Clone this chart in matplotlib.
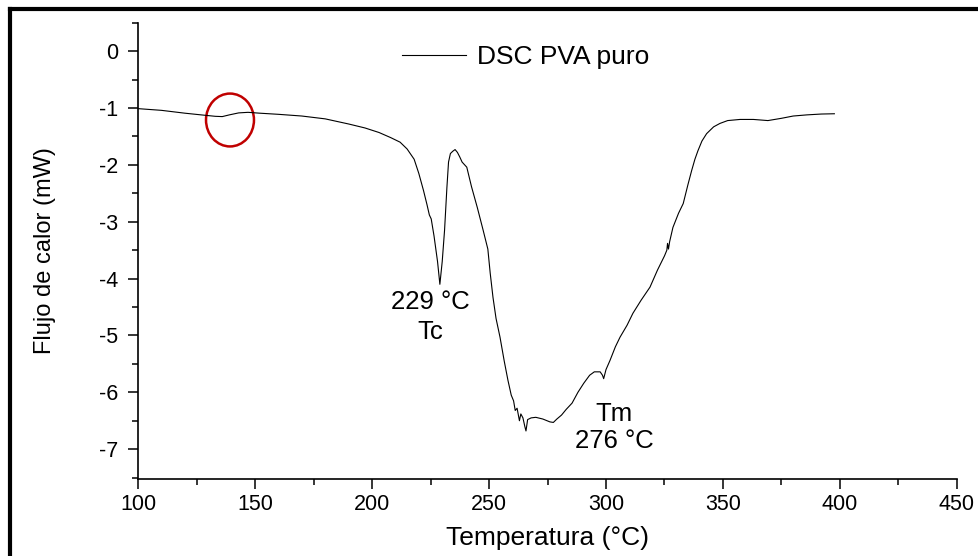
import matplotlib
matplotlib.use('Agg')

import numpy as np
import matplotlib.pyplot as plt
from matplotlib.patches import Ellipse
from matplotlib.lines import Line2D
from matplotlib.ticker import MultipleLocator

plt.rcParams['font.family'] = ['Liberation Sans', 'DejaVu Sans']
plt.rcParams['axes.unicode_minus'] = False

# DSC curve of pure PVA
temp = [100, 110, 120, 127, 133, 136, 139, 143, 147, 152, 160, 170, 180, 190,
        197, 203, 208, 212, 215, 218, 220, 222, 223.5, 224.5, 225.3, 226.5,
        228, 229, 230, 231, 232, 232.7, 233.5, 234.5, 235.5, 236.5, 237.5,
        238.5, 240.5, 242.5, 245, 247.5, 249.5, 250.5, 251.7, 253, 254.7,
        256.5, 258.1, 259.5, 260.5, 261.2, 262, 263, 263.6, 264.5, 265.3,
        265.8, 266.5, 268, 270, 273, 276, 277.5, 279, 281, 283, 285.5, 288,
        290.5, 293, 295, 297.5, 298.5, 299, 300, 301.7, 304, 306, 309, 311.5,
        315, 318.8, 322, 325, 326, 326.3, 326.7, 327.2, 328.6, 331, 333, 335,
        336.6, 338, 339.3, 341, 343, 346, 348.7, 352, 357.3, 363, 369.2, 375,
        380, 385.8, 392, 397.6]
flujo = [-1.01, -1.04, -1.09, -1.12, -1.145, -1.15, -1.12, -1.085, -1.075,
         -1.09, -1.11, -1.14, -1.19, -1.28, -1.35, -1.43, -1.52, -1.60, -1.72,
         -1.90, -2.15, -2.45, -2.70, -2.88, -2.95, -3.25, -3.70, -4.10, -3.70,
         -3.15, -2.40, -1.95, -1.80, -1.76, -1.73, -1.78, -1.86, -1.95, -2.04,
         -2.38, -2.75, -3.15, -3.48, -3.90, -4.33, -4.70, -5.03, -5.45, -5.79,
         -6.05, -6.15, -6.32, -6.28, -6.50, -6.38, -6.45, -6.60, -6.68, -6.48,
         -6.45, -6.44, -6.47, -6.52, -6.53, -6.47, -6.40, -6.30, -6.19, -6.00,
         -5.84, -5.70, -5.64, -5.64, -5.70, -5.76, -5.60, -5.44, -5.20, -5.03,
         -4.82, -4.61, -4.38, -4.15, -3.85, -3.60, -3.50, -3.38, -3.48, -3.35,
         -3.10, -2.85, -2.68, -2.35, -2.10, -1.90, -1.75, -1.58, -1.45, -1.33,
         -1.27, -1.22, -1.20, -1.20, -1.22, -1.18, -1.14, -1.12, -1.105, -1.10]

# annotations
tc_x, tc_label, tc_name = 224.8, '229 °C', 'Tc'
tm_x, tm_label, tm_name = 303.4, '276 °C', 'Tm'
circ_x, circ_y, circ_w, circ_h = 139.3, -1.21, 20.5, 0.93

fig = plt.figure(figsize=(9.79, 5.56), dpi=100)
ax = fig.add_axes([0.141, 0.139, 0.8365, 0.820])

ax.plot(temp, flujo, color='black', lw=0.8, label='DSC PVA puro')

ax.add_patch(Ellipse((circ_x, circ_y), circ_w, circ_h, fill=False,
                     edgecolor='#c00000', lw=1.8))

ax.text(tc_x, -4.42, tc_label, ha='center', va='center', fontsize=18.5)
ax.text(tc_x, -4.94, tc_name, ha='center', va='center', fontsize=18.5)
ax.text(tm_x, -6.38, tm_name, ha='center', va='center', fontsize=18.5)
ax.text(tm_x, -6.86, tm_label, ha='center', va='center', fontsize=18.5)

ax.set_xlim(100, 450)
ax.set_ylim(-7.52, 0.5)
ax.xaxis.set_major_locator(MultipleLocator(50))
ax.xaxis.set_minor_locator(MultipleLocator(25))
ax.yaxis.set_major_locator(MultipleLocator(1))
ax.yaxis.set_minor_locator(MultipleLocator(0.5))

for s in ['top', 'right']:
    ax.spines[s].set_visible(False)
for s in ['left', 'bottom']:
    ax.spines[s].set_linewidth(1.2)

ax.tick_params(which='major', direction='out', length=7, width=1.1,
               labelsize=15.5, pad=4)
ax.tick_params(which='minor', direction='out', length=4, width=1.1)
ax.tick_params(axis='y', which='major', pad=7)

ax.set_xlabel('Temperatura (°C)', fontsize=19, labelpad=8)
ax.set_ylabel('Flujo de calor (mW)', fontsize=17, labelpad=31)

ax.legend(loc='center left', bbox_to_anchor=(0.322, 0.925), frameon=False,
          fontsize=19, handlelength=2.45, handletextpad=0.42, borderpad=0,
          borderaxespad=0)

# outer frame (top and left edges visible)
fig.add_artist(Line2D([0.0102, 1.0], [0.9838, 0.9838], color='black',
                      lw=3, transform=fig.transFigure))
fig.add_artist(Line2D([0.0102, 0.0102], [0.0, 0.9838], color='black',
                      lw=3, transform=fig.transFigure))

fig.savefig('out.png', dpi=100)
